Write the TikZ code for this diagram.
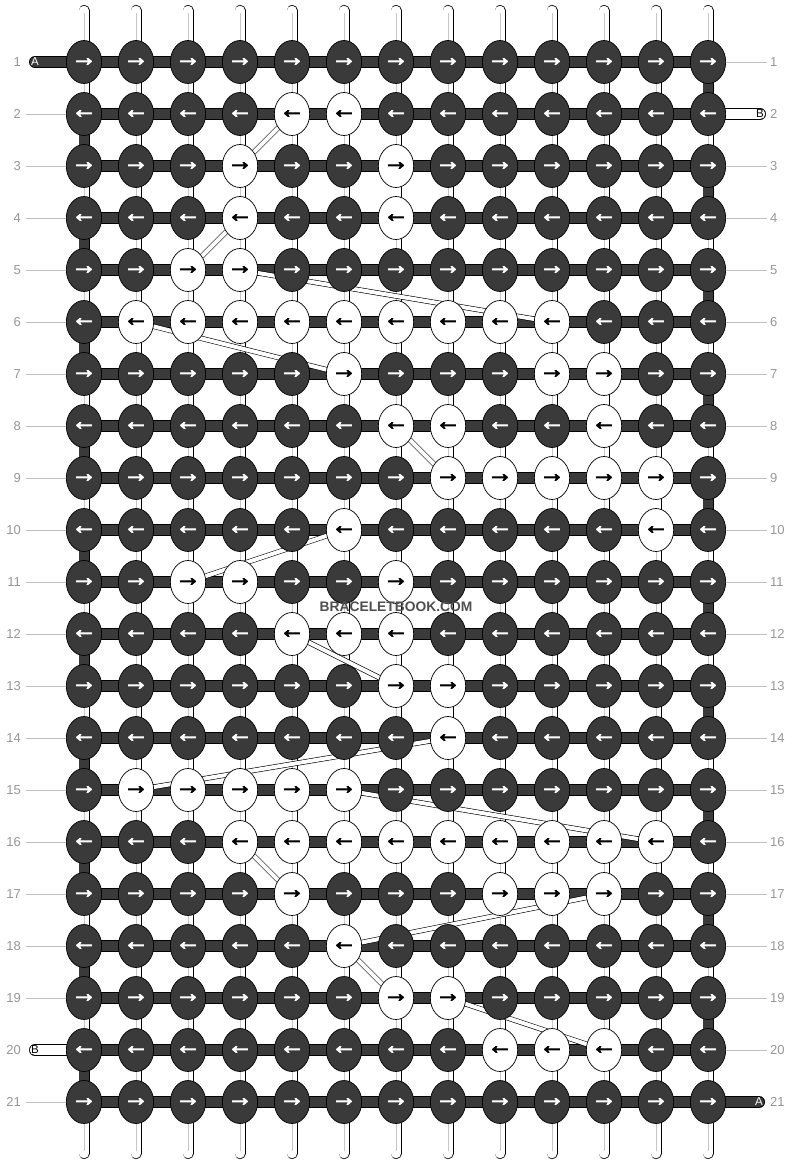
\documentclass[tikz,border=0pt]{standalone}
\usepackage{fontspec}
\setmainfont{Liberation Sans}
\newfontfamily\arrowfont{Liberation Sans}[FakeBold=3.5]
\usetikzlibrary{shapes.geometric}
\definecolor{knotdark}{RGB}{58,58,58}
\definecolor{labelgray}{RGB}{150,150,150}
\definecolor{markgray}{RGB}{78,78,78}
\def\colsep{52}
\def\rowsep{52}

\pgfdeclarelayer{warps}
\pgfdeclarelayer{threads}
\pgfsetlayers{warps,threads,main}

\begin{document}
\begin{tikzpicture}[x=1pt,y=-1pt]
    \tikzstyle{knot}=[ellipse, draw=black, line width=0.7pt, minimum width=35pt, minimum height=43pt, inner sep=0pt, font=\arrowfont\fontsize{25}{25}\selectfont]
    \tikzstyle{warp}=[double=white, double distance=9.6pt, line width=0.7pt, line cap=round]
    \tikzstyle{warp core}=[gray!45, line width=0.9pt, shorten <=3pt, shorten >=3pt]
    \tikzstyle{bar}=[double=knotdark, double distance=10.6pt, line width=0.7pt]
    \tikzstyle{edge wrap}=[double=knotdark, double distance=9.6pt, line width=0.7pt]
    \tikzstyle{b warp}=[double=white, double distance=9.6pt, line width=0.7pt]
    \tikzstyle{b thread}=[double=white, double distance=4pt, line width=0.6pt]
    \tikzstyle{end tag}=[inner sep=0pt, font=\fontsize{11.5}{11.5}\selectfont]
    \tikzstyle{row label}=[text=labelgray, inner xsep=5pt, font=\fontsize{13}{13}\selectfont]
    \tikzstyle{label line}=[gray!50, line width=0.8pt]
    \tikzstyle{watermark}=[text=markgray, font=\bfseries\fontsize{13.8}{14}\selectfont]

    \useasboundingbox (0,0) rectangle (792,1164);

    % ends of the warp strings
    \foreach \c in {1,...,13} {
        \coordinate (top-\c) at ({84+\colsep*(\c-1)},10.5);
        \coordinate (bot-\c) at ({84+\colsep*(\c-1)},1153.5);
    }

    % knots, the list gives the light ones of each row
    \foreach \r/\ws in {1/{0},2/{5,6},3/{4,7},4/{4,7},5/{3,4},6/{2,3,4,5,6,7,8,9,10},7/{6,10,11},8/{7,8,11},9/{8,9,10,11,12},10/{6,12},11/{3,4,7},12/{5,6,7},13/{7,8},14/{8},15/{2,3,4,5,6},16/{4,5,6,7,8,9,10,11,12},17/{5,9,10,11},18/{6},19/{7,8},20/{9,10,11},21/{0}} {
        \pgfmathsetmacro\y{62+\rowsep*(\r-1)}
        \ifodd\r\relax \gdef\arr{→}\else \gdef\arr{←}\fi
        \foreach \c in {1,...,13} {
            \gdef\kfill{knotdark}\gdef\ktext{white}
            \foreach \w in \ws {\ifnum\w=\c\relax \gdef\kfill{white}\gdef\ktext{black}\fi}
            \node[knot, fill=\kfill, text=\ktext] (k-\r-\c) at ({84+\colsep*(\c-1)},\y) {\arr};
        }
        \node[row label, anchor=east] (l-\r) at (26,\y) {\r};
        \node[row label, anchor=west, inner xsep=3pt] (rl-\r) at (767,\y) {\r};
    }

    % string ends
    \node[end tag, text=white] (a-in) at (35,62) {A};
    \node[end tag, text=white] (a-out) at (759,1102) {A};
    \node[end tag] (b-in) at (760,114) {B};
    \node[end tag] (b-out) at (35,1050) {B};

    \begin{pgfonlayer}{warps}
        \foreach \c in {1,...,13} {
            \draw[warp] (top-\c) -- (bot-\c);
            \draw[warp core] (top-\c) -- (bot-\c);
        }
    \end{pgfonlayer}

    \begin{pgfonlayer}{threads}
        \foreach \r in {1,...,21}
            \draw[bar] (k-\r-1.center) -- (k-\r-13.center);

        % turns at the edges
        \foreach \r [evaluate=\r as \n using int(\r+1)] in {1,3,...,19}
            \draw[edge wrap] (k-\r-13.center) -- (k-\n-13.center);
        \foreach \r [evaluate=\r as \n using int(\r+1)] in {2,4,...,20}
            \draw[edge wrap] (k-\r-1.center) -- (k-\n-1.center);

        % second colour behind the knots
        \foreach \a/\b in {3-7/4-7,7-11/8-11,9-12/10-12,11-7/12-7,13-8/14-8}
            \draw[b warp] (k-\a.center) -- (k-\b.center);
        \foreach \a/\b in {2-5/3-4,4-4/5-3,5-4/6-10,6-2/7-6,8-7/9-8,10-6/11-3,12-5/13-7,14-8/15-2,15-6/16-12,16-4/17-5,17-11/18-6,18-6/19-7,19-8/20-11}
            \draw[b thread] (k-\a.center) -- (k-\b.center);

        \draw[bar, line cap=round] (a-in.center) -- (k-1-1.center);
        \draw[bar, line cap=round] (k-21-13.center) -- (a-out.center);
        \draw[bar, double=white, line cap=round] (k-2-13.center) -- (b-in.center);
        \draw[bar, double=white, line cap=round] (b-out.center) -- (k-20-1.center);
    \end{pgfonlayer}

    % row lines
    \foreach \r in {2,...,19,21}
        \draw[label line] (l-\r) -- (k-\r-1);
    \foreach \r in {1,3,4,...,20}
        \draw[label line] (k-\r-13) -- (rl-\r);

    \node[watermark] (mark) at (396,607) {BRACELETBOOK.COM};
\end{tikzpicture}
\end{document}
